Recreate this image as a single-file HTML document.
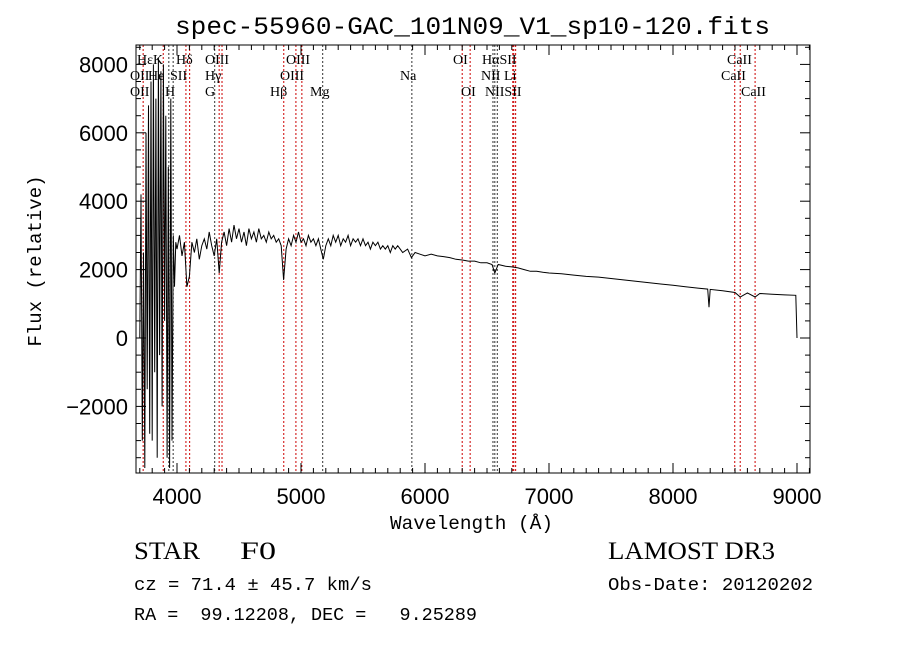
<!DOCTYPE html>
<html><head><meta charset="utf-8"><style>
body{margin:0;background:#fff;width:900px;height:649px;overflow:hidden}
svg{display:block}
.t{font-family:"Liberation Sans",sans-serif}
.s{font-family:"Liberation Serif",serif}
</style></head><body>
<svg id="c" width="900" height="649" viewBox="0 0 900 649"></svg>
<script>
const waves=[3700,3710,3720,3730,3740,3750,3760,3770,3780,3790,3800,3810,3820,3830,3840,3850,3860,3870,3880,3890,3900,3910,3920,3930,3940,3950,3960,3970,3980,3990,4000,4020,4040,4060,4080,4100,4120,4140,4160,4180,4200,4220,4240,4260,4280,4300,4320,4340,4360,4380,4400,4420,4440,4460,4480,4500,4520,4540,4560,4580,4600,4620,4640,4660,4680,4700,4720,4740,4760,4780,4800,4820,4840,4860,4880,4900,4920,4940,4960,4980,5000,5020,5040,5060,5080,5100,5120,5140,5160,5180,5200,5220,5240,5260,5280,5300,5320,5340,5360,5380,5400,5420,5440,5460,5480,5500,5520,5540,5560,5580,5600,5620,5640,5660,5680,5700,5720,5740,5760,5780,5800,5820,5860,5890,5920,5960,6000,6050,6100,6150,6200,6250,6300,6350,6400,6450,6500,6540,6563,6590,6650,6700,6750,6800,6850,6900,6950,7000,7100,7200,7300,7400,7500,7600,7700,7800,7900,8000,8100,8200,8280,8290,8300,8400,8500,8542,8600,8662,8700,8800,8900,8990,9000];
const flux=[0,4200,-3000,2500,-3800,6000,-1500,6800,-2800,7500,-3000,8000,-1000,7000,-3500,8200,-500,7800,-2000,8000,500,6500,-3500,5000,-3800,7000,-3000,3000,1500,2800,2600,3000,2400,2800,1500,1800,2800,2500,2900,2300,2700,2900,2600,3100,2700,2400,2900,1900,2800,3100,2700,3200,2800,3300,2900,3200,2800,3100,2700,3200,2900,3100,2800,3200,2900,3000,2800,3100,2900,3000,2800,2900,2700,1700,2600,2900,2700,3000,2800,3100,2800,2900,2700,3000,2800,2900,2700,2900,2600,2300,2700,2900,2700,3000,2800,3000,2700,2900,2800,3000,2700,2900,2800,2900,2700,2900,2700,2800,2600,2800,2700,2800,2600,2700,2600,2700,2500,2700,2600,2700,2600,2500,2600,2350,2500,2450,2400,2450,2400,2380,2350,2300,2280,2250,2250,2200,2200,2150,1900,2150,2100,2080,2050,2000,1950,1950,1920,1900,1880,1840,1800,1780,1740,1700,1660,1620,1580,1540,1500,1460,1430,900,1420,1380,1330,1200,1320,1200,1300,1280,1260,1250,0];
const xTicks=[4000,5000,6000,7000,8000,9000];
const yTicks=[-2000,0,2000,4000,6000,8000];
const lineNames=["OII","Hε","K","H","SII","Hδ","G","Hγ","OIII","Hβ","OIII","OIII","Mg","Na","OI","OI","NII","Hα","NII","Li","SII","SII","CaII","CaII","CaII"];
const lineWaves=[3727,3889,3934,3969,4072,4102,4304,4340,4363,4861,4959,5007,5175,5894,6300,6364,6548,6563,6583,6708,6716,6731,8498,8542,8662];
const lineRed=[1,1,0,0,1,1,0,1,1,1,1,1,0,0,1,1,0,0,0,1,1,1,1,1,1];
const labels=[["HεK",137,64],["Hδ",176,64],["OIII",205,64],["OIII",286,64],["OI",453,64],["HαSII",482,64],["CaII",727,64],
["OII",130,80],["He",148,80],["SII",170,80],["Hγ",205,80],["OIII",280,80],["Na",400,80],["NII",481,80],["Li",504,80],["CaII",721,80],
["OII",130,96],["H",165,96],["G",205,96],["Hβ",270,96],["Mg",310,96],["OI",461,96],["NIISII",485,96],["CaII",741,96]];
const L=136,R=810,T=45,B=473;
const X=w=>177+(w-4000)*0.124;
const Y=f=>338-f*0.0342;
const svg=document.getElementById('c');
const NS='http://www.w3.org/2000/svg';
function mk(tag,at,txt){const e=document.createElementNS(NS,tag);for(const k in at)e.setAttribute(k,at[k]);if(txt!==undefined)e.textContent=txt;svg.appendChild(e);return e;}
const defs=mk('defs',{});const cp=document.createElementNS(NS,'clipPath');cp.setAttribute('id','pc');const cr=document.createElementNS(NS,'rect');cr.setAttribute('x',L);cr.setAttribute('y',T);cr.setAttribute('width',R-L);cr.setAttribute('height',B-T);cp.appendChild(cr);defs.appendChild(cp);
lineWaves.forEach((w,i)=>{const e=mk('line',{x1:X(w),x2:X(w),y1:T,y2:B,stroke:lineRed[i]?'#c00':'#333','stroke-width':1,'stroke-dasharray':'2,2'});

});
labels.forEach(l=>{const e=mk('text',{x:l[1],y:l[2],class:'s','font-size':14},l[0]);

});
let d='';waves.forEach((w,i)=>{d+=(i?'L':'M')+X(w).toFixed(1)+','+Y(flux[i]).toFixed(1);});
const p=mk('path',{d:d,fill:'none',stroke:'#000','stroke-width':1,'clip-path':'url(#pc)'});


const fr=mk('rect',{x:L,y:T,width:R-L,height:B-T,fill:'none',stroke:'#000','stroke-width':1});


for(let w=3700;w<=9100;w+=100){const x=X(w);if(x<L||x>R)continue;const big=w%1000===0;const h=big?10:5;
mk('line',{x1:x,x2:x,y1:B,y2:B-h,stroke:'#000'});mk('line',{x1:x,x2:x,y1:T,y2:T+h,stroke:'#000'});}
for(let f=-3500;f<=8500;f+=500){const y=Y(f);if(y<T||y>B)continue;const big=f%2000===0;const h=big?10:5;
mk('line',{x1:L,x2:L+h,y1:y,y2:y,stroke:'#000'});mk('line',{x1:R,x2:R-h,y1:y,y2:y,stroke:'#000'});}
xTicks.forEach(v=>{const e=mk('text',{x:X(v),y:504,'text-anchor':'middle',class:'t','font-size':22},String(v));

});
yTicks.forEach(v=>{const e=mk('text',{x:128,y:Y(v)+8,'text-anchor':'end',class:'t','font-size':22},v<0?'−'+(-v):String(v));

});
</script>
<svg width="900" height="649" style="position:absolute;left:0;top:0">
<text x="175" y="34" textLength="595" lengthAdjust="spacingAndGlyphs" font-family="Liberation Mono,monospace" font-size="25">spec-55960-GAC_101N09_V1_sp10-120.fits</text>
<text x="390" y="529" textLength="163" lengthAdjust="spacingAndGlyphs" font-family="Liberation Mono,monospace" font-size="19">Wavelength (Å)</text>
<text transform="translate(41,261) rotate(-90)" text-anchor="middle" font-family="Liberation Mono,monospace" font-size="19">Flux (relative)</text>
<text x="134" y="559" textLength="66" lengthAdjust="spacingAndGlyphs" font-family="Liberation Serif,serif" font-size="25">STAR</text>
<text x="240" y="559" textLength="36" lengthAdjust="spacingAndGlyphs" font-family="Liberation Serif,serif" font-size="25">F0</text>
<text x="608" y="559" textLength="167" lengthAdjust="spacingAndGlyphs" font-family="Liberation Serif,serif" font-size="25">LAMOST DR3</text>
<text x="134" y="590" textLength="238" lengthAdjust="spacingAndGlyphs" font-family="Liberation Mono,monospace" font-size="18">cz = 71.4 ± 45.7 km/s</text>
<text x="608" y="590" textLength="205" lengthAdjust="spacingAndGlyphs" font-family="Liberation Mono,monospace" font-size="18">Obs-Date: 20120202</text>
<text x="134" y="620" textLength="343" lengthAdjust="spacingAndGlyphs" font-family="Liberation Mono,monospace" font-size="18" xml:space="preserve">RA =  99.12208, DEC =   9.25289</text>
</svg>
</body></html>
